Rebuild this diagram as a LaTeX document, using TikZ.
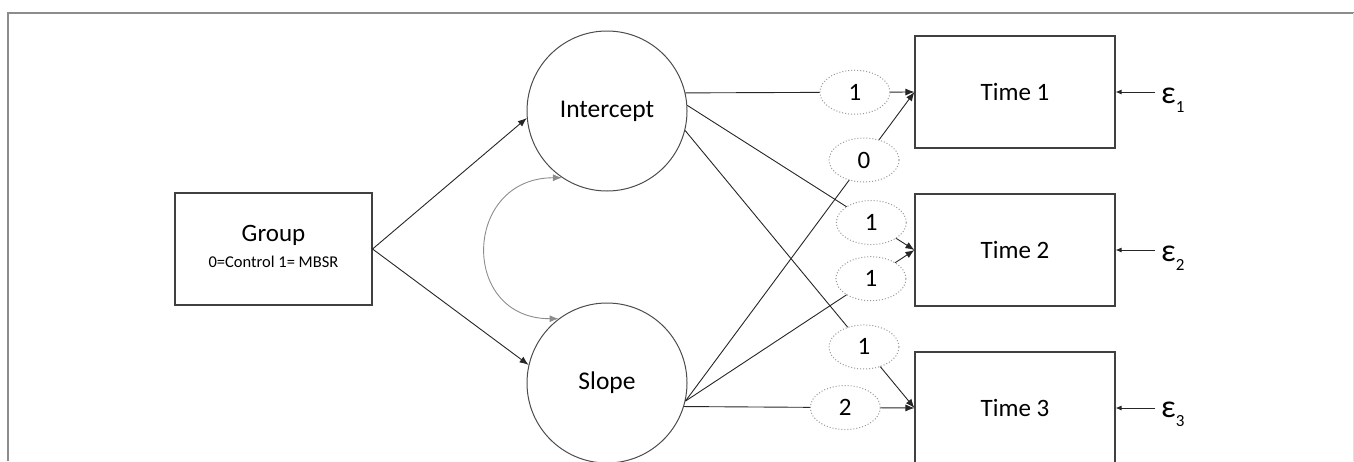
\documentclass[tikz,border=0pt]{standalone}
\usepackage{fontspec}
\setmainfont{Carlito}
\usetikzlibrary{arrows.meta,shapes.geometric}

\begin{document}
\begin{tikzpicture}[x=1pt,y=-1pt,
    box/.style={draw=black!75, line width=1.1pt, minimum width=200pt, minimum height=112pt,
      font=\fontsize{25}{29}\selectfont},
    latent/.style={circle, draw=black!70, line width=1pt, minimum size=160pt, inner sep=0pt,
      font=\fontsize{25.5}{29}\selectfont},
    wt/.style={ellipse, draw=black!40, dotted, line width=1pt, fill=white, minimum width=70pt,
      minimum height=44pt, inner sep=0pt, font=\fontsize{25}{29}\selectfont},
    err/.style={inner sep=6pt, font=\fontsize{32}{34}\selectfont},
    path/.style={draw=black!85, line width=0.9pt, -{Latex[length=9pt,width=7pt]}},
    errpath/.style={draw=black!85, line width=0.9pt, -{Latex[length=6pt,width=5pt]}}]
    \clip (0,0) rectangle (1354,461);

    % Frame
    \draw[black!45, line width=2pt] (8,461) -- (8,13) -- (1354,13);
    \draw[black!12, line width=1pt] (1353,13) -- (1353,461);

    % Observed and latent variables
    \node[box, minimum width=197pt] (group) at (273.5,249) {\begin{tabular}{c}Group\\[-3pt]
      {\fontsize{16.5}{18}\selectfont 0=Control 1= MBSR}\end{tabular}};
    \node[latent] (icpt) at (607,111) {Intercept};
    \node[latent] (slope) at (607,383) {Slope};
    \node[box] (t1) at (1015,92) {Time 1};
    \node[box] (t2) at (1015,250) {Time 2};
    \node[box] (t3) at (1015,408) {Time 3};

    % Residuals
    \node[err, anchor=base west] (e1) at (1155,103) {ε\raisebox{-9pt}{\fontsize{17}{19}\selectfont 1}};
    \node[err, anchor=base west] (e2) at (1155,261) {ε\raisebox{-9pt}{\fontsize{17}{19}\selectfont 2}};
    \node[err, anchor=base west] (e3) at (1155,417) {ε\raisebox{-9pt}{\fontsize{17}{19}\selectfont 3}};
    \draw[errpath] (e1.west |- t1.east) -- (t1.east);
    \draw[errpath] (e2.west |- t2.east) -- (t2.east);
    \draw[errpath] (e3.west |- t3.east) -- (t3.east);

    % Group effects
    \draw[path] (group.east) -- (icpt.185);
    \draw[path] (group.east) -- (slope.167);

    % Covariance
    \draw[black!45, line width=0.9pt, {Latex[length=9pt,width=7pt]}-{Latex[length=9pt,width=7pt]}]
      (slope.127) to[out=180, in=180, looseness=1.8] (icpt.236);

    % Loadings
    \draw[path] (icpt.13) -- node[wt, pos=0.74] (w11) {1} (t1.west);
    \draw[path] (icpt.4) -- node[wt, pos=0.81] (w12) {1} (t2.west);
    \draw[path] (icpt.-14) -- node[wt, pos=0.78] (w13) {1} (t3.west);
    \draw[path] (slope.-13) -- node[wt, pos=0.78] (w21) {0} (t1.west);
    \draw[path] (slope.-13) -- node[wt, pos=0.81] (w22) {1} (t2.west);
    \draw[path] (slope.-17) -- node[wt, pos=0.70] (w23) {2} (t3.west);
\end{tikzpicture}
\end{document}
